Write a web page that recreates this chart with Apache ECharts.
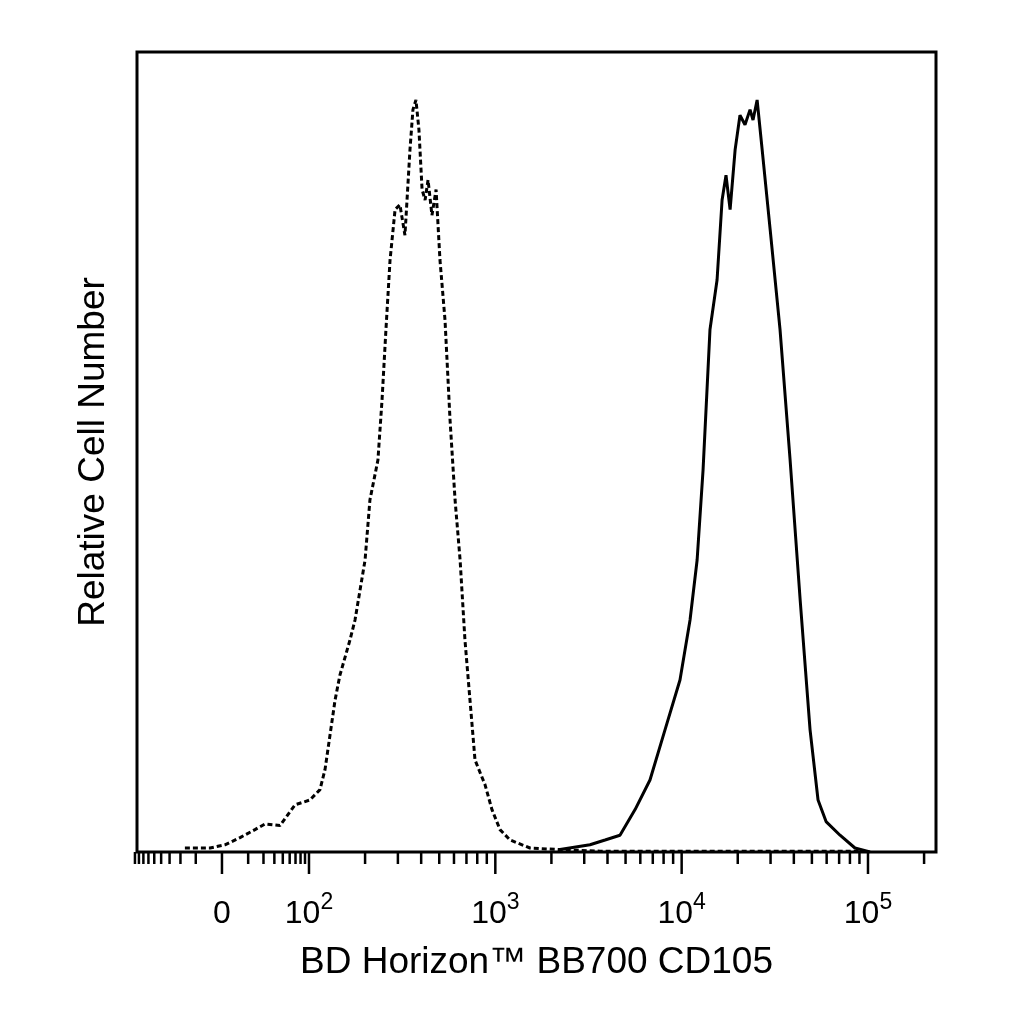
<!DOCTYPE html>
<html><head><meta charset="utf-8">
<script src="https://cdn.jsdelivr.net/npm/echarts@6/dist/echarts.min.js"></script>
<style>html,body{margin:0;background:#fff}#c{width:1024px;height:1024px}</style>
</head><body><div id="c"></div>
<script>
// x in display units: log10(intensity) above 100; biexponential-like near 0 (0 sits at 1.533)
const dashedX=[1.334,1.469,1.549,1.630,1.710,1.764,1.844,1.925,2.005,2.059,2.086,2.140,2.166,2.220,2.247,2.301,2.327,2.370,2.392,2.413,2.435,2.462,2.488,2.515,2.542,2.558,2.574,2.590,2.607,2.623,2.639,2.660,2.682,2.703,2.730,2.757,2.784,2.811,2.837,2.864,2.891,2.945,2.982,3.025,3.079,3.186,3.347,3.562,4.099,4.958];
const dashedY=[0.5,0.5,0.9,1.8,2.8,3.5,3.3,5.9,6.5,7.8,10.3,19,22.1,26.5,29,36.5,44,49,56.5,65.3,74,80.3,80.9,77.1,87.8,92.8,94,90.3,82.8,81.5,84,79.6,82.8,74,66.5,54,44,36.5,26.5,19,11.5,8.4,5.3,2.8,1.5,0.5,0.3,0.1,0.1,0.1];
const solidX=[3.347,3.508,3.589,3.669,3.750,3.830,3.911,3.991,4.045,4.083,4.115,4.152,4.190,4.217,4.238,4.260,4.287,4.313,4.340,4.367,4.383,4.405,4.432,4.475,4.528,4.582,4.636,4.689,4.732,4.775,4.850,4.930,5.011];
const solidY=[0.3,0.9,1.5,2.1,5.3,9,15.3,21.5,29,36.5,47.8,65.3,71.5,81.5,84.6,80.3,87.8,92.1,90.9,92.8,91.5,94,87.8,77.8,65.3,49,31.5,15.3,6.5,3.8,2.1,0.5,0];
const zeroPos=1.533;
const majorLabels=[{t:zeroPos,txt:'0'},{t:2,txt:'10{s|2}'},{t:3,txt:'10{s|3}'},{t:4,txt:'10{s|4}'},{t:5,txt:'10{s|5}'}];
const xMin=1.077,xMax=5.365;

const ticks=[];
majorLabels.forEach(m=>ticks.push([m.t,1]));
for(let k=2;k<=5;k++)for(let m=2;m<=9;m++){const t=k+Math.log10(m);if(t<xMax)ticks.push([t,0]);}
for(let m=2;m<=9;m++){const d=(2-zeroPos)*Math.log10(m);ticks.push([zeroPos+d,0]);ticks.push([zeroPos-d,0]);}
ticks.push([zeroPos-(2-zeroPos),0]);

const chart=echarts.init(document.getElementById('c'));
const zip=(a,b)=>a.map((v,i)=>[v,b[i]]);
chart.setOption({
 animation:false,
 grid:{left:137,right:88,top:52,bottom:172,show:true,borderColor:'#000',borderWidth:3},
 xAxis:{type:'value',min:xMin,max:xMax,axisLine:{show:false},axisTick:{show:false},axisLabel:{show:false},splitLine:{show:false},
  name:'BD Horizon™ BB700 CD105',nameLocation:'middle',nameGap:92,nameTextStyle:{fontFamily:'Liberation Sans',fontSize:37,color:'#000'}},
 yAxis:{type:'value',min:0,max:100,axisLine:{show:false},axisTick:{show:false},axisLabel:{show:false},splitLine:{show:false},
  name:'Relative Cell Number',nameLocation:'middle',nameGap:25,nameTextStyle:{fontFamily:'Liberation Sans',fontSize:37,color:'#000'}},
 series:[
  {type:'line',data:zip(dashedX,dashedY),showSymbol:false,lineStyle:{color:'#000',width:3,type:[5,3]}},
  {type:'line',data:zip(solidX,solidY),showSymbol:false,lineStyle:{color:'#000',width:3}},
  {type:'custom',clip:false,data:ticks,renderItem:(p,api)=>{const pt=api.coord([api.value(0),0]);const L=api.value(1)?22:12;
    return {type:'line',shape:{x1:pt[0],y1:pt[1],x2:pt[0],y2:pt[1]+L},style:{stroke:'#000',lineWidth:2.5}};}},
  {type:'custom',clip:false,data:majorLabels.map(m=>[m.t]),renderItem:(p,api)=>{const pt=api.coord([api.value(0),0]);
    return {type:'text',x:pt[0],y:pt[1]+62,style:{text:majorLabels[p.dataIndex].txt,fontFamily:'Liberation Sans',fontSize:32,fill:'#000',align:'center',verticalAlign:'middle',
      rich:{s:{fontSize:23,verticalAlign:'top',padding:[0,0,22,0],fontFamily:'Liberation Sans'}}}};}}
 ]
});
</script></body></html>
